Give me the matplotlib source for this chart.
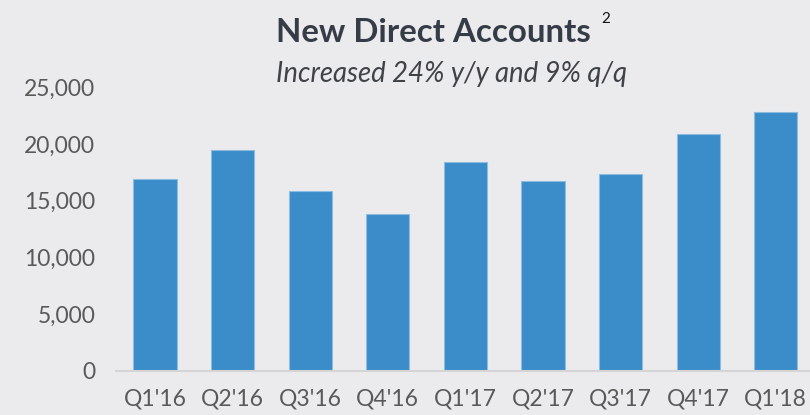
import matplotlib
matplotlib.use("Agg")
import matplotlib.pyplot as plt
from matplotlib.ticker import FuncFormatter

categories = ["Q1'16", "Q2'16", "Q3'16", "Q4'16", "Q1'17", "Q2'17", "Q3'17", "Q4'17", "Q1'18"]
new_accounts = [16900, 19450, 15900, 13800, 18400, 16750, 17350, 20900, 22800]
y_ticks = [0, 5000, 10000, 15000, 20000, 25000]

title = "New Direct Accounts"
footnote = "2"
subtitle = "Increased 24% y/y and 9% q/q"

bg = "#EBEBED"
bar_color = "#3A8DC8"
text_gray = "#595959"

plt.rcParams['font.family'] = ['Lato', 'DejaVu Sans']

fig = plt.figure(figsize=(8.10, 4.15), dpi=100)
fig.patch.set_facecolor(bg)
ax = fig.add_axes([116.2 / 810, 1 - 370.5 / 415, 698.4 / 810, 283 / 415])
ax.set_facecolor(bg)

x = list(range(len(categories)))
ax.bar(x, new_accounts, width=0.557, color=bar_color, edgecolor="#8DBCE0", linewidth=0.8, zorder=2)

ax.set_xlim(-0.5, len(categories) - 0.5)
ax.set_ylim(0, 25000)
ax.set_yticks(y_ticks)
ax.yaxis.set_major_formatter(FuncFormatter(lambda v, p: f"{int(v):,}"))
ax.set_xticks(x)
ax.set_xticklabels(categories)

for s in ["top", "right", "left"]:
    ax.spines[s].set_visible(False)
ax.spines["bottom"].set_color("#D4D4D6")
ax.spines["bottom"].set_linewidth(1.5)
ax.tick_params(axis="both", length=0, labelsize=16.5, colors=text_gray)
ax.tick_params(axis="y", pad=15)
ax.tick_params(axis="x", pad=13)

fig.text(433 / 810, 1 - 41.7 / 415, title, ha="center", va="baseline",
         fontsize=23.8, fontweight="bold", color="#353C47")
fig.text(601 / 810, 1 - 23 / 415, footnote, ha="left", va="baseline",
         fontsize=11, color="#111111")
fig.text(452 / 810, 1 - 81.7 / 415, subtitle, ha="center", va="baseline",
         fontsize=19.8, style="italic", color="#3F4247")

fig.savefig("out.png", dpi=100, facecolor=bg)
